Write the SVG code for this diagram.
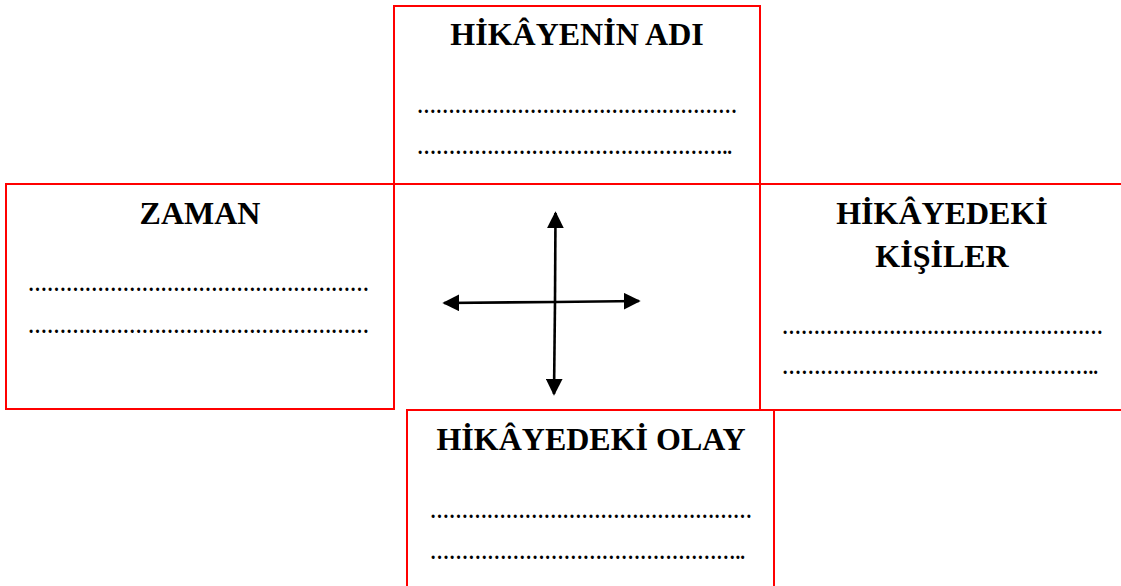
<svg xmlns="http://www.w3.org/2000/svg" width="1121" height="586" viewBox="0 0 1121 586">
<style>
.box{fill:none;stroke:#ff0000;stroke-width:2}
.title{font-family:"Liberation Serif","Times New Roman",serif;font-weight:bold;font-size:32px;fill:#000;text-anchor:middle}
.dots{font-family:"Liberation Serif","Times New Roman",serif;font-weight:bold;font-size:21.33px;fill:#000}
.ln{stroke:#000;stroke-width:2.6;fill:none}
</style>
<defs>
<marker id="ah" viewBox="0 0 10 10" refX="9" refY="5" markerWidth="6.5" markerHeight="6.5" markerUnits="strokeWidth" orient="auto-start-reverse">
<path d="M0,0 L10,5 L0,10 z" fill="#000"/>
</marker>
</defs>
<rect width="1121" height="586" fill="#fff"/>
<g id="node-ad">
<rect class="box" x="394" y="6" width="366" height="178"/>
<text class="title" x="577" y="45">HİKÂYENİN ADI</text>
<text class="dots" x="417" y="113" textLength="320" lengthAdjust="spacingAndGlyphs">……………………………………………</text>
<text class="dots" x="417" y="154" textLength="315" lengthAdjust="spacingAndGlyphs">…………………………………………..</text>
</g>
<g id="node-zaman">
<rect class="box" x="6" y="184" width="388" height="225"/>
<text class="title" x="200" y="224">ZAMAN</text>
<text class="dots" x="28" y="291" textLength="341" lengthAdjust="spacingAndGlyphs">………………………………………………</text>
<text class="dots" x="28" y="333" textLength="341" lengthAdjust="spacingAndGlyphs">………………………………………………</text>
</g>
<g id="node-kisiler">
<rect class="box" x="760" y="184" width="364" height="226"/>
<text class="title" x="942" y="224">HİKÂYEDEKİ</text>
<text class="title" x="942" y="267">KİŞİLER</text>
<text class="dots" x="782" y="334" textLength="321" lengthAdjust="spacingAndGlyphs">……………………………………………</text>
<text class="dots" x="782" y="374" textLength="316" lengthAdjust="spacingAndGlyphs">…………………………………………..</text>
</g>
<g id="node-olay">
<rect class="box" x="407" y="410" width="367" height="190"/>
<text class="title" x="591" y="450">HİKÂYEDEKİ OLAY</text>
<text class="dots" x="430" y="518" textLength="322" lengthAdjust="spacingAndGlyphs">……………………………………………</text>
<text class="dots" x="430" y="559" textLength="315" lengthAdjust="spacingAndGlyphs">…………………………………………..</text>
</g>
<g id="connectors">
<line class="ln" x1="555" y1="302" x2="555.5" y2="213" marker-end="url(#ah)"/>
<line class="ln" x1="555" y1="302" x2="554" y2="394" marker-end="url(#ah)"/>
<line class="ln" x1="555" y1="302" x2="444" y2="303" marker-end="url(#ah)"/>
<line class="ln" x1="555" y1="302" x2="639" y2="301" marker-end="url(#ah)"/>
</g>
</svg>
